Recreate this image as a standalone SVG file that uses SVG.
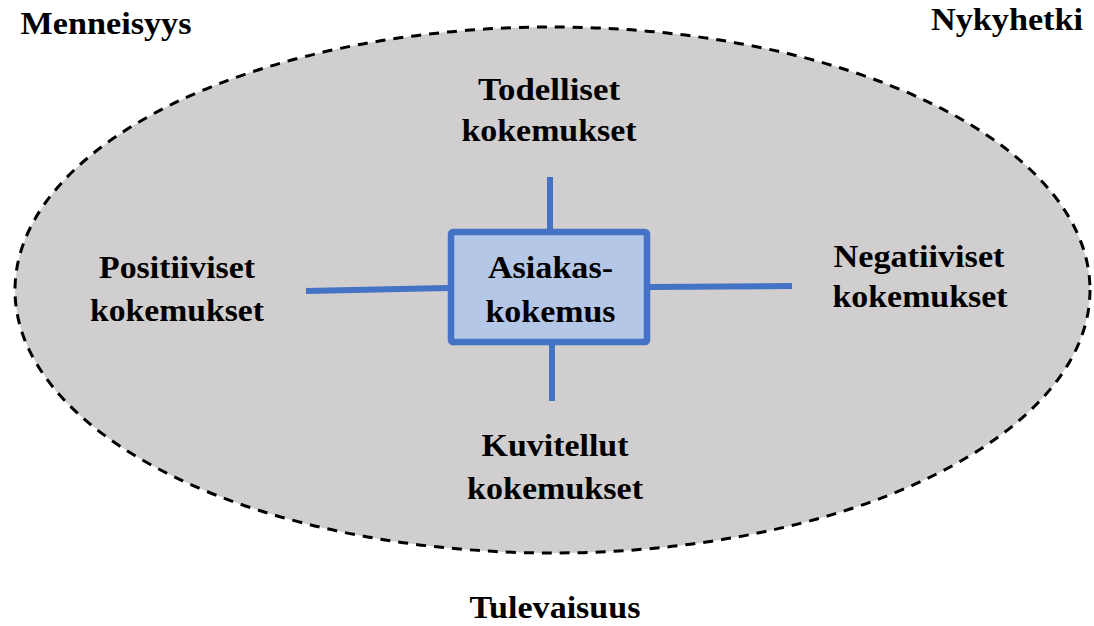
<svg xmlns="http://www.w3.org/2000/svg" width="1094" height="626" viewBox="0 0 1094 626">
<style>
  text { font-family: "Liberation Serif", "Times New Roman", serif; font-weight: bold; font-size: 31px; fill: #000; text-anchor: middle; }
  .conn { stroke: #4472C4; stroke-width: 6; fill: none; }
</style>
<rect width="1094" height="626" fill="#fff"/>
<g id="time-frame">
  <ellipse cx="552.5" cy="290" rx="537.5" ry="263" fill="#D0CECE" stroke="#000" stroke-width="3" stroke-dasharray="10 8"/>
</g>
<g id="labels-time">
  <text x="106" y="34" textLength="171" lengthAdjust="spacingAndGlyphs">Menneisyys</text>
  <text x="1007" y="30" textLength="152" lengthAdjust="spacingAndGlyphs">Nykyhetki</text>
  <text x="555" y="618" font-size="30" textLength="171" lengthAdjust="spacingAndGlyphs">Tulevaisuus</text>
</g>
<g id="connectors">
  <line class="conn" x1="550" y1="177" x2="550" y2="229"/>
  <line class="conn" x1="552" y1="345" x2="552" y2="401"/>
  <line class="conn" x1="306" y1="291" x2="448" y2="288"/>
  <line class="conn" x1="650" y1="287" x2="792" y2="286"/>
</g>
<g id="asiakaskokemus">
  <rect x="451" y="232" width="196" height="110" rx="2" fill="#B4C7E7" stroke="#4472C4" stroke-width="6.5"/>
  <text x="550.5" y="278" textLength="125" lengthAdjust="spacingAndGlyphs">Asiakas-</text>
  <text x="550.5" y="322" textLength="130" lengthAdjust="spacingAndGlyphs">kokemus</text>
</g>
<g id="todelliset">
  <text x="549" y="100" textLength="142" lengthAdjust="spacingAndGlyphs">Todelliset</text>
  <text x="549" y="141" textLength="175" lengthAdjust="spacingAndGlyphs">kokemukset</text>
</g>
<g id="positiiviset">
  <text x="177" y="278" textLength="156" lengthAdjust="spacingAndGlyphs">Positiiviset</text>
  <text x="177" y="321" textLength="174" lengthAdjust="spacingAndGlyphs">kokemukset</text>
</g>
<g id="negatiiviset">
  <text x="919" y="267" textLength="171" lengthAdjust="spacingAndGlyphs">Negatiiviset</text>
  <text x="920" y="307" textLength="175" lengthAdjust="spacingAndGlyphs">kokemukset</text>
</g>
<g id="kuvitellut">
  <text x="555" y="456" textLength="147" lengthAdjust="spacingAndGlyphs">Kuvitellut</text>
  <text x="555" y="499" textLength="176" lengthAdjust="spacingAndGlyphs">kokemukset</text>
</g>
</svg>
